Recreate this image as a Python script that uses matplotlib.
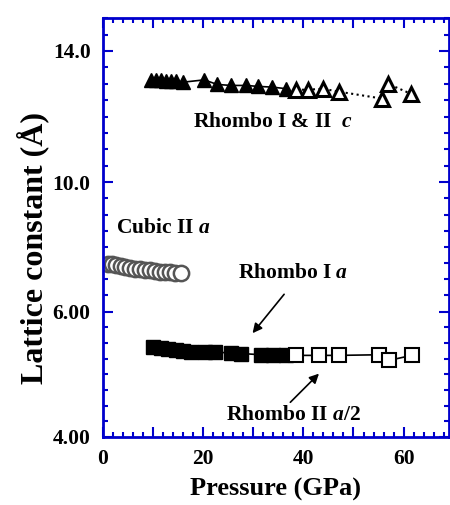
import numpy as np
import matplotlib
matplotlib.use("Agg")
import matplotlib.pyplot as plt
from matplotlib.ticker import FixedLocator, FixedFormatter

plt.rcParams["font.family"] = ["Liberation Serif", "DejaVu Serif"]
plt.rcParams["font.weight"] = "bold"
plt.rcParams["mathtext.fontset"] = "custom"
plt.rcParams["mathtext.it"] = "Liberation Serif:italic:bold"
plt.rcParams["mathtext.rm"] = "Liberation Serif:bold"

# Rhombo I & II c (filled = Rhombo I, open = Rhombo II)
p_c_filled = [9.5, 10.5, 11.5, 12.5, 13.5, 14.5, 16.0, 20.2, 22.8, 25.6, 28.6, 31.0, 33.8, 36.6]
c_filled = [13.12, 13.12, 13.12, 13.10, 13.10, 13.08, 13.05, 13.12, 12.98, 12.95, 12.95, 12.92, 12.90, 12.85]
p_c_open = [38.6, 40.9, 43.9, 47.1, 55.7, 56.9, 61.4]
c_open = [12.82, 12.82, 12.85, 12.76, 12.55, 13.00, 12.70]

# Cubic II a
p_cubic = [1.0, 1.8, 2.6, 3.5, 4.4, 5.3, 6.3, 7.3, 8.3, 9.3, 10.3, 11.3, 12.3, 13.3, 14.3, 15.5]
a_cubic = [7.48, 7.46, 7.43, 7.41, 7.38, 7.36, 7.33, 7.31, 7.29, 7.27, 7.25, 7.23, 7.22, 7.21, 7.20, 7.18]

# Rhombo I a (filled) and Rhombo II a/2 (open)
p_a_filled = [10.0, 11.5, 13.0, 14.5, 16.0, 17.5, 20.3, 22.3, 25.6, 27.6, 31.5, 34.0, 36.5]
a_filled = [5.43, 5.41, 5.40, 5.38, 5.37, 5.36, 5.35, 5.35, 5.34, 5.33, 5.31, 5.31, 5.30]
p_a_open = [38.6, 43.1, 47.1, 55.1, 57.1, 61.6]
a_open = [5.30, 5.30, 5.30, 5.31, 5.22, 5.30]

# the y axis in the original is not linear: labels sit roughly evenly spaced
y_nodes = [0, 4, 6, 10, 14, 20]
y_pos = [-252, 0, 126, 256, 388, 586]


def fwd(v):
    return np.interp(v, y_nodes, y_pos)


def inv(p):
    return np.interp(p, y_pos, y_nodes)


blue = "#0000cc"

fig = plt.figure(figsize=(4.5, 5.05), dpi=100)
ax = fig.add_axes([0.229, 0.135, 0.768, 0.829])
ax.set_yscale("function", functions=(fwd, inv))

ax.plot(p_c_filled, c_filled, "-", color="black", lw=1.2, marker="^", ms=10.5,
        mfc="black", mec="black")
ax.plot(p_c_open, c_open, ":", color="black", lw=1.5, marker="^", ms=10.5,
        mfc="white", mec="black", mew=2.2)
ax.plot(p_cubic, a_cubic, "none", marker="o", ms=11, mfc="white", mec="#555555", mew=1.8)
ax.plot(p_a_filled, a_filled, "-", color="black", lw=1.2, marker="s", ms=10,
        mfc="black", mec="black")
ax.plot(p_a_open, a_open, "-", color="black", lw=1.2, marker="s", ms=9.5,
        mfc="white", mec="black", mew=1.5)

ax.set_xlim(0, 69)
ax.set_ylim(4, 15)

ax.xaxis.set_major_locator(FixedLocator([0, 10, 20, 30, 40, 50, 60]))
ax.xaxis.set_major_formatter(FixedFormatter(["0", "", "20", "", "40", "", "60"]))
ax.xaxis.set_minor_locator(FixedLocator(list(range(0, 70, 2))))

y_minor = list(np.arange(4, 6, 0.25)) + list(np.arange(6, 15.01, 0.5))
ax.yaxis.set_major_locator(FixedLocator([4, 6, 10, 14]))
ax.yaxis.set_major_formatter(FixedFormatter(["4.00", "6.00", "10.0", "14.0"]))
ax.yaxis.set_minor_locator(FixedLocator(y_minor))

ax.tick_params(which="both", direction="in", top=True, right=True,
               color=blue, width=1.5, labelsize=15.5)
ax.tick_params(which="major", length=7, pad=9)
ax.tick_params(which="minor", length=3.5)
for s in ax.spines.values():
    s.set_color(blue)
    s.set_linewidth(2)

ax.set_xlabel("Pressure (GPa)", fontsize=19, fontweight="bold", labelpad=6)
ax.set_ylabel("Lattice constant (Å)", fontsize=23, fontweight="bold")
ax.yaxis.set_label_coords(-0.155, 0.45)

ax.text(34, 11.85, r"Rhombo I & II  $c$", fontsize=15.5, ha="center", va="center")
ax.text(2.5, 8.6, r"Cubic II $a$", fontsize=15.5, ha="left", va="center")
ax.text(27, 7.2, r"Rhombo I $a$", fontsize=15.5, ha="left", va="center")
ax.text(24.5, 4.35, r"Rhombo II $a$/2", fontsize=15.5, ha="left", va="center")

ax.annotate("", xy=(29.5, 5.62), xytext=(36.5, 6.6),
            arrowprops=dict(arrowstyle="-|>", color="black", lw=1.2, mutation_scale=14))
ax.annotate("", xy=(43.5, 5.04), xytext=(37, 4.52),
            arrowprops=dict(arrowstyle="-|>", color="black", lw=1.2, mutation_scale=14))

fig.savefig("out.png", dpi=100)
